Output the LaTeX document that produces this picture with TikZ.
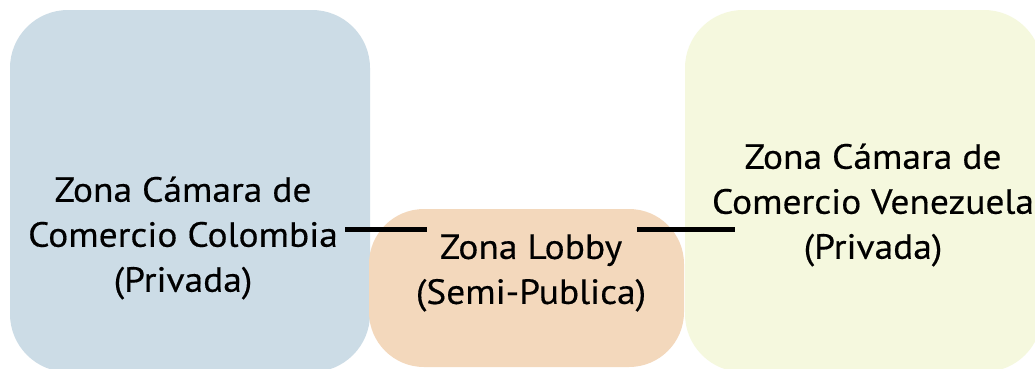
\documentclass[tikz,border=0pt]{standalone}
\usepackage{fontspec}
\setmainfont{PT Sans}[FakeStretch=1.07,FakeBold=0.4]
\definecolor{cblue}{RGB}{204,220,230}
\definecolor{cpeach}{RGB}{243,216,188}
\definecolor{cyellow}{RGB}{245,248,222}
\tikzset{
  zone/.style={draw=none, rounded corners=58pt},
  label/.style={align=center, inner sep=0pt, font=\fontsize{35}{45}\selectfont, text=black},
  link/.style={line width=5pt, black}
}
\begin{document}
\begin{tikzpicture}[x=1pt,y=-1pt]
\useasboundingbox (0,0) rectangle (1035,368);
\clip (0,0) rectangle (1035,368);
\fill[white] (0,0) rectangle (1035,368);
\fill[zone, cblue] (10,10) rectangle (370,372);
\fill[zone, cyellow] (685,10) rectangle (1042,372);
\fill[zone, cpeach, rounded corners=55pt] (369,209) rectangle (684,367);
\node[label] (col) at (183,238) {Zona Cámara de\\Comercio Colombia\\(Privada)};
\node[label] (lob) at (531,273) {Zona Lobby\\(Semi-Publica)};
\node[label] (ven) at (873,205) {Zona Cámara de\\Comercio Venezuela\\(Privada)};
\coordinate (a1) at (345,229);
\coordinate (a2) at (427,229);
\coordinate (b1) at (637,229);
\coordinate (b2) at (735,229);
\draw[link] (a1) -- (a2);
\draw[link] (b1) -- (b2);
\end{tikzpicture}
\end{document}
